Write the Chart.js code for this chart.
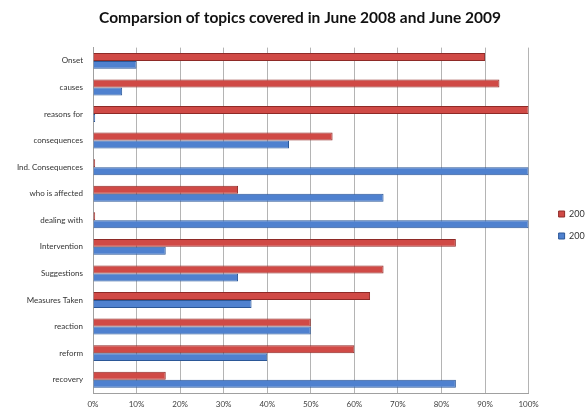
<!DOCTYPE html>
<html>
<head>
<meta charset="utf-8">
<script src="https://cdn.jsdelivr.net/npm/chart.js@4.4.1/dist/chart.umd.min.js"></script>
<style>
  html, body { margin: 0; padding: 0; background: #fff; overflow: hidden; }
  #wrap { width: 585px; height: 410px; overflow: hidden; }
  #box { width: 600px; height: 410px; }
</style>
</head>
<body>
<div id="wrap"><div id="box"><canvas id="chart"></canvas></div></div>
<script>
// Chart data
const topics = ['Onset', 'causes', 'reasons for', 'consequences', 'Ind. Consequences',
  'who is affected', 'dealing with', 'Intervention', 'Suggestions', 'Measures Taken',
  'reaction', 'reform', 'recovery'];
const june2008 = [90, 93.3, 100, 55, 0.5, 33.3, 0.5, 83.3, 66.7, 63.6, 50, 60, 16.7];
const june2009 = [10, 6.7, 0.5, 45, 100, 66.7, 100, 16.7, 33.3, 36.4, 50, 40, 83.3];
const seriesNames = ['2008', '2009'];

const ctx = document.getElementById('chart').getContext('2d');
const chart = new Chart(ctx, {
  type: 'bar',
  data: {
    labels: topics,
    datasets: [{
      label: seriesNames[0],
      data: june2008,
      backgroundColor: '#d04a46',
      borderColor: '#8e2a27',
      borderWidth: 1
    }, {
      label: seriesNames[1],
      data: june2009,
      backgroundColor: '#4f81cf',
      borderColor: '#2b5797',
      borderWidth: 1
    }]
  },
  options: {
    indexAxis: 'y',
    responsive: true,
    maintainAspectRatio: false,
    animation: false,
    layout: { padding: 0 },
    datasets: {
      bar: { categoryPercentage: 0.6, barPercentage: 1 }
    },
    scales: {
      x: {
        min: 0,
        max: 100,
        ticks: {
          stepSize: 10,
          padding: 7,
          color: '#404040',
          font: { family: 'Lato', size: 8 },
          callback: v => v + '%'
        },
        grid: { color: '#b4b4b4', drawTicks: false },
        border: { color: '#a0a0a0' },
        afterFit: s => { s.height = 17; }
      },
      y: {
        ticks: {
          padding: 10,
          color: '#333',
          font: { family: 'Lato', size: 8 }
        },
        grid: { display: false, drawTicks: false },
        border: { color: '#a0a0a0' },
        afterFit: s => { s.width = 93; }
      },
      // empty spacer between the plot and the legend
      gap: {
        type: 'linear',
        position: 'right',
        display: true,
        ticks: { display: false },
        grid: { display: false, drawTicks: false },
        border: { display: false },
        afterFit: s => { s.width = 17; }
      }
    },
    plugins: {
      title: {
        display: true,
        text: 'Comparsion of topics covered in June 2008 and June 2009',
        color: '#111',
        font: { family: 'Lato', size: 15.5, weight: 'bold' },
        padding: { top: 9, bottom: 20 }
      },
      legend: {
        position: 'right',
        title: {
          display: true,
          text: ' ',
          font: { size: 10 },
          padding: { top: 14, bottom: 14 }
        },
        labels: {
          boxWidth: 6,
          boxHeight: 6,
          padding: 13,
          color: '#333',
          font: { family: 'Lato', size: 9 }
        }
      },
      tooltip: { enabled: false }
    }
  }
});
</script>
</body>
</html>
